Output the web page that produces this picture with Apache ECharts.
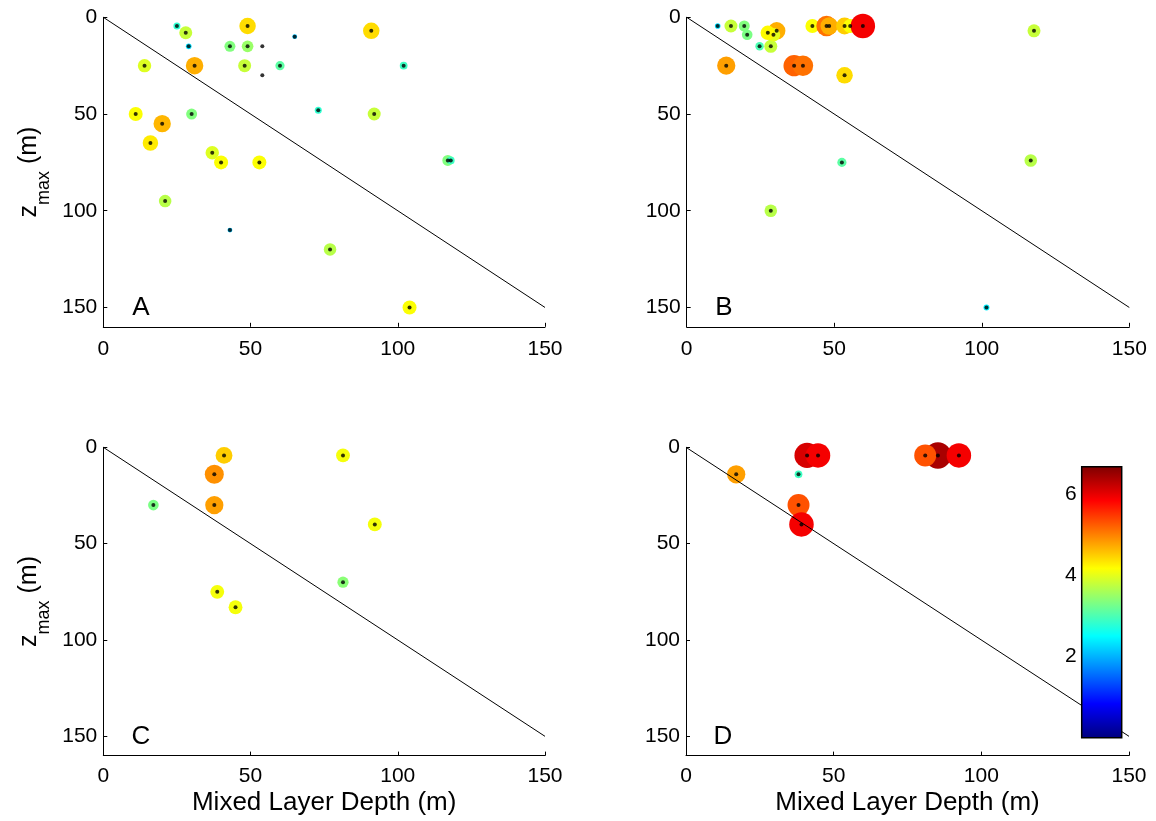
<!DOCTYPE html>
<html><head><meta charset="utf-8">
<script src="https://cdn.jsdelivr.net/npm/echarts/dist/echarts.min.js"></script>
<style>html,body{margin:0;padding:0;background:#fff}#c{width:1156px;height:821px}</style>
</head><body><div id="c"></div>
<script>
// ---- data ----
const mldA = [25, 28, 29, 49, 65, 91, 43, 49, 54, 54, 14, 31, 48, 60, 102, 11, 30, 73, 92, 20, 16, 37, 40, 53, 117, 118, 21, 43, 77, 104];
const zA   = [4.5, 8, 15, 4.5, 10, 7, 15, 15, 15, 30, 25, 25, 25, 25, 25, 50, 50, 48, 50, 55, 65, 70, 75, 75, 74, 74, 95, 110, 120, 150];
const vA   = [2.8, 3.8, 2.3, 4.4, 2.1, 4.4, 3.35, 3.5, 1.0, 1.0, 3.95, 4.7, 3.8, 3.1, 2.9, 4.15, 3.35, 2.8, 3.8, 4.65, 4.3, 3.95, 4.15, 4.15, 3.35, 2.9, 3.7, 2.1, 3.7, 4.15];

const mldB = [10.5, 15, 19.5, 20.5, 24.7, 28.5, 30.5, 29.4, 27.5, 42.6, 47.4, 48.3, 53.5, 55.4, 59.7, 117.7, 13.4, 36.4, 39.4, 53.5, 52.6, 116.6, 28.5, 101.6];
const zB   = [4.5, 4.5, 4.5, 9, 15, 15, 7, 9, 8, 4.5, 4.5, 4.5, 4.5, 4.5, 4.5, 7, 25, 25, 25, 30, 75, 74, 100, 150];
const vB   = [2.3, 3.8, 3.35, 3.3, 3.0, 3.8, 4.7, 4.0, 4.2, 4.15, 5.1, 4.7, 4.5, 4.15, 5.9, 3.8, 4.8, 5.2, 5.1, 4.4, 3.1, 3.7, 3.7, 2.4];

const mldC = [41, 37.7, 17, 37.7, 81.4, 92.2, 81.4, 38.7, 44.9];
const zC   = [4.2, 14, 30, 30, 4.2, 40, 70, 75, 83];
const vC   = [4.5, 4.9, 3.3, 4.8, 4.1, 4.1, 3.4, 4.1, 4.1];

const mldD = [17, 38.1, 41, 44.7, 38.1, 39.1, 85.3, 81, 92.4];
const zD   = [14, 14, 4.2, 4.2, 30, 40, 4.2, 4.2, 4.2];
const vD   = [4.8, 2.9, 6.1, 5.9, 5.3, 5.9, 6.4, 5.3, 5.9];

const panelLetters = ['A', 'B', 'C', 'D'];
const oneToOne = [0, 150];
const colorRange = [0, 6.67];
const xLabel = 'Mixed Layer Depth (m)';

// ---- styling ----
const FONT = '"Liberation Sans", Arial, Helvetica, sans-serif';
const jet = ['#000080', '#0000ff', '#0080ff', '#00ffff', '#80ff80', '#ffff00', '#ff8000', '#ff0000', '#800000'];
const scaleV = [0, 1.2, 2.2, 2.8, 3.35, 3.8, 4.15, 4.4, 4.7, 4.9, 5.3, 5.9, 6.4, 6.7];
const scaleD = [0, 0, 5.4, 7, 11, 13, 14, 16.5, 17.5, 19, 22, 24.5, 26.5, 28];
function diam(v) {
  for (let i = 1; i < scaleV.length; i++) {
    if (v <= scaleV[i]) {
      const t = (v - scaleV[i - 1]) / (scaleV[i] - scaleV[i - 1]);
      return scaleD[i - 1] + t * (scaleD[i] - scaleD[i - 1]);
    }
  }
  return scaleD[scaleD.length - 1];
}

const panels = [
  { x: mldA, z: zA, v: vA, grid: { left: 103.3, top: 17.3, width: 441.7, height: 309.5 }, yName: true, xName: false, letter: [141, 307.5], lm: 12 },
  { x: mldB, z: zB, v: vB, grid: { left: 686.7, top: 17.3, width: 442.6, height: 309.5 }, yName: false, xName: false, letter: [724, 307.5], lm: 12 },
  { x: mldC, z: zC, v: vC, grid: { left: 103.3, top: 447.3, width: 441.7, height: 308.3 }, yName: true, xName: true, letter: [141, 737], lm: 10 },
  { x: mldD, z: zD, v: vD, grid: { left: 686, top: 447.3, width: 443, height: 308.3 }, yName: false, xName: true, letter: [723, 737], lm: 10 }
];

const grid = [], xAxis = [], yAxis = [], series = [], graphic = [];
const circleSeriesIdx = [];
panels.forEach((p, i) => {
  grid.push(Object.assign({ containLabel: false }, p.grid));
  xAxis.push({
    type: 'value', gridIndex: i, min: oneToOne[0], max: oneToOne[1], interval: 50,
    axisLine: { show: true, onZero: false, lineStyle: { color: '#000', width: 1 } },
    axisTick: { show: true, inside: true, length: 4, lineStyle: { color: '#000' } },
    axisLabel: { fontSize: 21, color: '#000', fontFamily: FONT, margin: p.lm },
    splitLine: { show: false },
    name: p.xName ? xLabel : '', nameLocation: 'middle', nameGap: 34,
    nameTextStyle: { fontSize: 26, color: '#000', fontFamily: FONT }
  });
  yAxis.push({
    type: 'value', gridIndex: i, inverse: true, min: 0, max: 160, interval: 50,
    axisLine: { show: true, onZero: false, lineStyle: { color: '#000', width: 1 } },
    axisTick: { show: true, inside: true, length: 4, lineStyle: { color: '#000' } },
    axisLabel: { fontSize: 21, color: '#000', fontFamily: FONT, margin: 6, showMaxLabel: false },
    splitLine: { show: false },
    name: p.yName ? '{a|z}{b|max}{a| (m)}' : '', nameLocation: 'middle', nameGap: 61,
    nameTextStyle: {
      color: '#000', fontFamily: FONT,
      rich: {
        a: { fontSize: 25, lineHeight: 26, verticalAlign: 'top', fontFamily: FONT, color: '#000' },
        b: { fontSize: 18, lineHeight: 19, padding: [19, 0, 0, 0], verticalAlign: 'top', fontFamily: FONT, color: '#000' }
      }
    }
  });
  const pts = p.x.map((xv, k) => [xv, p.z[k], p.v[k]]);
  circleSeriesIdx.push(series.length);
  series.push({
    type: 'scatter', xAxisIndex: i, yAxisIndex: i, data: pts, z: 2,
    symbol: 'circle', symbolSize: d => diam(d[2]),
    itemStyle: { opacity: 1, borderWidth: 0 }, silent: true
  });
  series.push({
    type: 'line', xAxisIndex: i, yAxisIndex: i, z: 3, silent: true,
    data: [[oneToOne[0], oneToOne[0]], [oneToOne[1], oneToOne[1]]],
    showSymbol: false, symbol: 'none', lineStyle: { color: '#000', width: 1 }
  });
  series.push({
    type: 'scatter', xAxisIndex: i, yAxisIndex: i, data: pts, z: 4, silent: true,
    symbol: 'circle', symbolSize: 4, itemStyle: { color: '#000' }
  });
  graphic.push({
    type: 'text', z: 50,
    style: { text: panelLetters[i], x: p.letter[0], y: p.letter[1], font: '26px ' + FONT, fill: '#000',
      align: 'center', verticalAlign: 'middle', textAlign: 'center', textVerticalAlign: 'middle' }
  });
});

// ---- colour bar ----
grid.push({ left: 1081.7, top: 466.7, width: 40, height: 271, show: true, borderColor: '#000', borderWidth: 1.5, backgroundColor: 'transparent', z: 20 });
xAxis.push({ type: 'category', gridIndex: 4, data: ['c'], show: false });
yAxis.push({
  type: 'value', gridIndex: 4, min: colorRange[0], max: colorRange[1], interval: 2, position: 'left',
  axisLine: { show: false }, axisTick: { show: false }, splitLine: { show: false },
  axisLabel: { fontSize: 21, color: '#000', fontFamily: FONT, margin: 5, showMaxLabel: false, showMinLabel: false }
});
yAxis.push({
  type: 'value', gridIndex: 4, min: colorRange[0], max: colorRange[1], interval: 2, position: 'right',
  axisLine: { show: false }, axisTick: { show: true, inside: true, length: 3, lineStyle: { color: '#000' } },
  splitLine: { show: false }, axisLabel: { show: false }
});
series.push({
  type: 'bar', xAxisIndex: 4, yAxisIndex: 4, data: [colorRange[1]], barWidth: '100%', z: 10, silent: true,
  itemStyle: {
    color: new echarts.graphic.LinearGradient(0, 0, 0, 1,
      jet.slice().reverse().map((c, k, arr) => ({ offset: k / (arr.length - 1), color: c })))
  }
});

const chart = echarts.init(document.getElementById('c'), null, { renderer: 'canvas' });
chart.setOption({
  animation: false,
  backgroundColor: '#fff',
  grid, xAxis, yAxis, series, graphic,
  visualMap: {
    type: 'continuous', show: false, min: colorRange[0], max: colorRange[1], dimension: 2,
    seriesIndex: circleSeriesIdx, inRange: { color: jet }
  }
});
</script></body></html>
